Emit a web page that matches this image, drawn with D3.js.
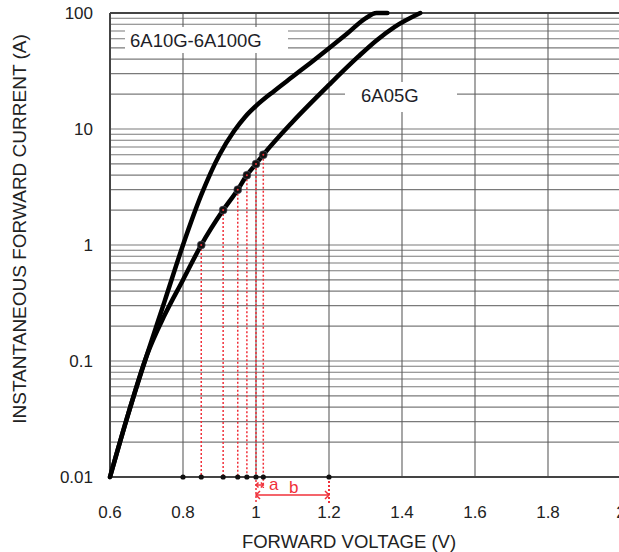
<!DOCTYPE html>
<html>
<head>
<meta charset="utf-8">
<script src="https://cdn.jsdelivr.net/npm/d3@7"></script>
<style>
    body { margin: 0; background: #fff; }
    text { font-family: "Liberation Sans", Arial, sans-serif; }
</style>
</head>
<body>
<script>
// forward voltage (V) and current (A)
var xTicks = [0.6, 0.8, 1.0, 1.2, 1.4, 1.6, 1.8, 2.0];
var xTickLabels = ["0.6", "0.8", "1", "1.2", "1.4", "1.6", "1.8", "2"];
var yTicks = [0.01, 0.1, 1, 10, 100];
var yTickLabels = ["0.01", "0.1", "1", "10", "100"];

var v10G = [0.6, 0.65, 0.7, 0.75, 0.8, 0.85, 0.9, 0.94, 0.97, 1.0, 1.05, 1.1, 1.15, 1.2, 1.25, 1.3, 1.33, 1.36];
var i10G = [0.01, 0.035, 0.11, 0.33, 1.0, 2.7, 6, 9.6, 12.7, 15.8, 21.3, 28.2, 37.3, 49.7, 66.6, 90, 100, 100];

var v05G = [0.6, 0.65, 0.7, 0.75, 0.8, 0.85, 0.91, 0.95, 0.975, 1.0, 1.02, 1.1, 1.2, 1.28, 1.33, 1.38, 1.45];
var i05G = [0.01, 0.035, 0.11, 0.25, 0.5, 1, 2, 3, 4, 5, 6, 11.5, 24, 42, 58, 76, 100];

// marked points on the 6A05G curve
var markV = [0.85, 0.91, 0.95, 0.975, 1.0, 1.02];
var markI = [1, 2, 3, 4, 5, 6];
var axisDots = [0.8, 0.85, 0.91, 0.95, 0.975, 1.0, 1.02, 1.2];

var _width = 619, _height = 552;

var x = d3.scaleLinear().domain([0.6, 2.0]).range([110, 621]);
var y = d3.scaleLog().domain([0.01, 100]).range([477, 13]);

var svg = d3.select("body").append("svg")
    .attr("width", _width)
    .attr("height", _height);

// grid
var minor = [];
yTicks.slice(0, -1).forEach(function (d) {
    for (var k = 2; k <= 9; k++) minor.push(d * k);
});

var grid = svg.append("g").attr("class", "grid");
grid.selectAll("line.h")
    .data(minor.concat(yTicks))
    .enter().append("line")
    .attr("x1", x(0.6)).attr("x2", x(2.0))
    .attr("y1", function (d) { return y(d); })
    .attr("y2", function (d) { return y(d); })
    .attr("stroke", "#7a7a7a")
    .attr("stroke-width", 1.1);

grid.selectAll("line.v")
    .data(xTicks)
    .enter().append("line")
    .attr("x1", function (d) { return x(d); })
    .attr("x2", function (d) { return x(d); })
    .attr("y1", y(100)).attr("y2", y(0.01))
    .attr("stroke", "#5e5e5e")
    .attr("stroke-width", 1.1);

// frame
svg.append("line").attr("x1", x(0.6)).attr("x2", x(2.0))
    .attr("y1", y(100)).attr("y2", y(100))
    .attr("stroke", "#444").attr("stroke-width", 2);
svg.append("line").attr("x1", x(0.6)).attr("x2", x(2.0))
    .attr("y1", y(0.01)).attr("y2", y(0.01))
    .attr("stroke", "#444").attr("stroke-width", 2);
svg.append("line").attr("x1", x(0.6)).attr("x2", x(0.6))
    .attr("y1", y(100)).attr("y2", y(0.01))
    .attr("stroke", "#444").attr("stroke-width", 2);

// label boxes
function label(txt, bx, by, bw, bh, tx, ty) {
    svg.append("rect")
        .attr("x", bx).attr("y", by)
        .attr("width", bw).attr("height", bh)
        .attr("fill", "#fff");
    svg.append("text")
        .attr("x", tx).attr("y", ty)
        .attr("font-size", "18.5px")
        .attr("fill", "#1e1e28")
        .text(txt);
}
label("6A10G-6A100G", 125, 27, 163, 26, 130, 47);
label("6A05G", 345, 82, 112, 30, 361, 102);

// red dotted guides
var red = "#f0303a";
svg.selectAll("line.guide")
    .data(markV)
    .enter().append("line")
    .attr("x1", function (d) { return x(d); })
    .attr("x2", function (d) { return x(d); })
    .attr("y1", function (d, i) { return y(markI[i]); })
    .attr("y2", function (d) {
        if (d == 1.0) return 503;
        if (d == 1.02) return 488;
        return y(0.01);
    })
    .attr("stroke", red)
    .attr("stroke-width", 1.5)
    .attr("stroke-dasharray", "2,2");
svg.append("line")
    .attr("x1", x(1.2)).attr("x2", x(1.2))
    .attr("y1", y(0.01)).attr("y2", 503)
    .attr("stroke", red)
    .attr("stroke-width", 2)
    .attr("stroke-dasharray", "2,2");

// curves
var line = d3.line()
    .x(function (d) { return x(d[0]); })
    .y(function (d) { return y(d[1]); })
    .curve(d3.curveMonotoneX);

svg.append("path")
    .datum(d3.zip(v10G, i10G))
    .attr("d", line)
    .attr("fill", "none")
    .attr("stroke", "#000")
    .attr("stroke-width", 4.5)
    .attr("stroke-linecap", "round");
svg.append("path")
    .datum(d3.zip(v05G, i05G))
    .attr("d", line)
    .attr("fill", "none")
    .attr("stroke", "#000")
    .attr("stroke-width", 4.5)
    .attr("stroke-linecap", "round");

// dots on curve and on axis
svg.selectAll("circle.mark")
    .data(markV)
    .enter().append("circle")
    .attr("cx", function (d) { return x(d); })
    .attr("cy", function (d, i) { return y(markI[i]); })
    .attr("r", 4)
    .attr("fill", "#111")
    .attr("stroke", "#556")
    .attr("stroke-width", 0.6);
svg.selectAll("circle.markc")
    .data(markV)
    .enter().append("circle")
    .attr("cx", function (d) { return x(d); })
    .attr("cy", function (d, i) { return y(markI[i]); })
    .attr("r", 1)
    .attr("fill", red);

svg.selectAll("circle.axisdot")
    .data(axisDots)
    .enter().append("circle")
    .attr("cx", function (d) { return x(d); })
    .attr("cy", y(0.01))
    .attr("r", 2.6)
    .attr("fill", "#111");

// a / b dimension arrows
function dimArrow(x1, x2, yy, head) {
    var g = svg.append("g")
        .attr("stroke", red)
        .attr("stroke-width", 1.5)
        .attr("fill", "none");
    g.append("line").attr("x1", x1).attr("x2", x2).attr("y1", yy).attr("y2", yy);
    g.append("path").attr("d", "M" + (x1 + head) + "," + (yy - head) + "L" + x1 + "," + yy + "L" + (x1 + head) + "," + (yy + head));
    g.append("path").attr("d", "M" + (x2 - head) + "," + (yy - head) + "L" + x2 + "," + yy + "L" + (x2 - head) + "," + (yy + head));
}
dimArrow(x(1.0), x(1.02), 485, 2.5);
dimArrow(x(1.0), x(1.2), 495, 4);

svg.append("text")
    .attr("x", 269).attr("y", 490)
    .attr("font-size", "17px")
    .attr("fill", red)
    .text("a");
svg.append("text")
    .attr("x", 289).attr("y", 493)
    .attr("font-size", "17px")
    .attr("fill", red)
    .text("b");

// tick labels
svg.selectAll("text.xt")
    .data(xTicks)
    .enter().append("text")
    .attr("x", function (d) { return x(d); })
    .attr("y", 518)
    .attr("text-anchor", "middle")
    .attr("font-size", "17px")
    .attr("fill", "#222")
    .text(function (d, i) { return xTickLabels[i]; });

svg.selectAll("text.yt")
    .data(yTicks)
    .enter().append("text")
    .attr("x", 93)
    .attr("y", function (d) { return y(d) + 6; })
    .attr("text-anchor", "end")
    .attr("font-size", "17px")
    .attr("fill", "#222")
    .text(function (d, i) { return yTickLabels[i]; });

// axis titles
svg.append("text")
    .attr("x", 349).attr("y", 548)
    .attr("text-anchor", "middle")
    .attr("font-size", "18.5px")
    .attr("fill", "#222")
    .text("FORWARD VOLTAGE (V)");

svg.append("text")
    .attr("transform", "translate(26,229) rotate(-90)")
    .attr("text-anchor", "middle")
    .attr("font-size", "19px")
    .attr("fill", "#222")
    .text("INSTANTANEOUS FORWARD CURRENT (A)");
</script>
</body>
</html>
